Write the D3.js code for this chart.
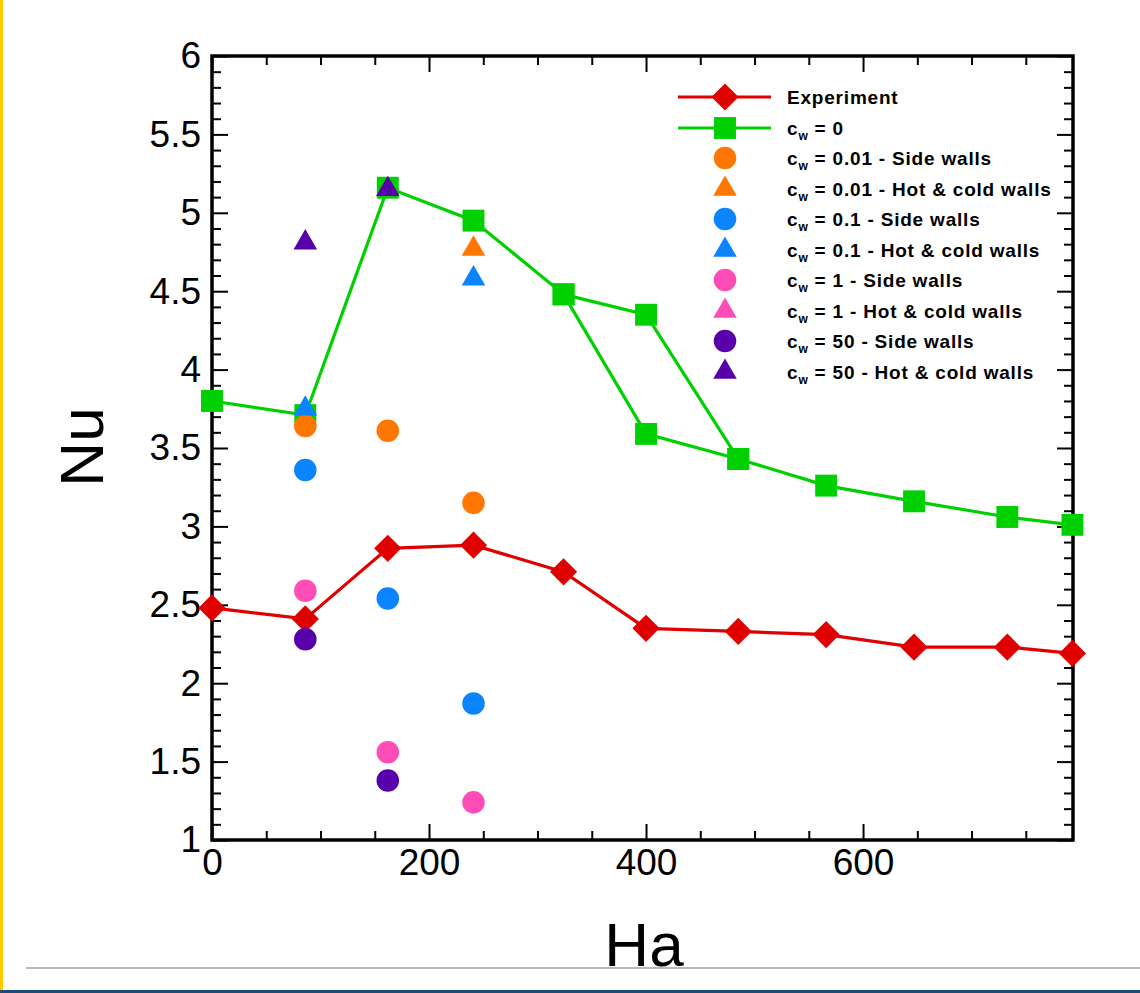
<!DOCTYPE html>
<html>
<head>
<meta charset="utf-8">
<script src="https://cdn.jsdelivr.net/npm/d3@7"></script>
<style>
  body { margin: 0; background: #fff; }
  svg text { font-family: "Liberation Sans", Arial, Helvetica, sans-serif; }
</style>
</head>
<body>
<div id="chart"></div>
<script>
// data
var expHa = [0, 86, 162, 241, 324, 400, 485, 566, 647, 733, 793];
var expNu = [2.48, 2.41, 2.86, 2.88, 2.71, 2.35, 2.33, 2.31, 2.23, 2.23, 2.19];

var cw0Ha = [0, 86, 162, 241, 324, 400, 485, 566, 647, 733, 793];
var cw0Nu = [3.80, 3.71, 5.16, 4.95, 4.48, 3.59, 3.43, 3.26, 3.16, 3.06, 3.01];
// second branch of the c_w = 0 curve
var cw0BranchHa = [324, 400, 485];
var cw0BranchNu = [4.48, 4.35, 3.43];

var cw001SideHa = [86, 162, 241];
var cw001SideNu = [3.64, 3.61, 3.15];
var cw001HotHa = [241];
var cw001HotNu = [4.77];
var cw01SideHa = [86, 162, 241];
var cw01SideNu = [3.36, 2.54, 1.87];
var cw01HotHa = [86, 241];
var cw01HotNu = [3.75, 4.58];
var cw1SideHa = [86, 162, 241];
var cw1SideNu = [2.59, 1.56, 1.24];
var cw1HotHa = [];
var cw1HotNu = [];
var cw50SideHa = [86, 162];
var cw50SideNu = [2.28, 1.38];
var cw50HotHa = [86, 162];
var cw50HotNu = [4.81, 5.15];

var xTicks = [0, 200, 400, 600];
var yTicks = [1, 1.5, 2, 2.5, 3, 3.5, 4, 4.5, 5, 5.5, 6];

var width = 1140;
var height = 993;
var plotLeft = 212, plotRight = 1073, plotTop = 56, plotBottom = 840;

var svg = d3.select("#chart")
    .append("svg")
    .attr("width", width)
    .attr("height", height);

// page decorations
svg.append("rect").attr("x", 0).attr("y", 0).attr("width", 3).attr("height", height).attr("fill", "#ffcc00");
svg.append("line").attr("x1", 26).attr("x2", width).attr("y1", 968).attr("y2", 968)
    .attr("stroke", "#a0a0a0").attr("stroke-width", 1.5);
svg.append("rect").attr("x", 0).attr("y", 990).attr("width", width).attr("height", 3).attr("fill", "#1d4d72");

var xScale = d3.scaleLinear().domain([0, 793.5]).range([plotLeft, plotRight]);
var yScale = d3.scaleLinear().domain([1, 6]).range([plotBottom, plotTop]);

var minorX = d3.range(0, 800, 50).filter(function(d) { return d % 200 !== 0; });
var minorY = d3.range(10, 61).map(function(d) { return d / 10; }).filter(function(d) { return Math.round(d * 10) % 5 !== 0; });

function styleAxis(g) {
  g.select(".domain").remove();
  g.selectAll(".tick line").attr("stroke", "#000").attr("stroke-width", 2.5);
  g.selectAll("text").attr("font-size", 37).attr("fill", "#000");
}

// major ticks, pointing inward
svg.append("g").attr("transform", "translate(0," + plotBottom + ")")
    .call(d3.axisBottom(xScale).tickValues(xTicks).tickSize(-16).tickPadding(9).tickFormat(d3.format("d")))
    .call(styleAxis);
svg.append("g").attr("transform", "translate(" + plotLeft + ",0)")
    .call(d3.axisLeft(yScale).tickValues(yTicks).tickSize(-16).tickPadding(11).tickFormat(d3.format("")))
    .call(styleAxis);
svg.append("g").attr("transform", "translate(0," + plotTop + ")")
    .call(d3.axisTop(xScale).tickValues(xTicks).tickSize(-16).tickFormat(""))
    .call(styleAxis);
svg.append("g").attr("transform", "translate(" + plotRight + ",0)")
    .call(d3.axisRight(yScale).tickValues(yTicks).tickSize(-16).tickFormat(""))
    .call(styleAxis);

// minor ticks
svg.append("g").attr("transform", "translate(0," + plotBottom + ")")
    .call(d3.axisBottom(xScale).tickValues(minorX).tickSize(-9).tickFormat(""))
    .call(styleAxis);
svg.append("g").attr("transform", "translate(0," + plotTop + ")")
    .call(d3.axisTop(xScale).tickValues(minorX).tickSize(-9).tickFormat(""))
    .call(styleAxis);
svg.append("g").attr("transform", "translate(" + plotLeft + ",0)")
    .call(d3.axisLeft(yScale).tickValues(minorY).tickSize(-9).tickFormat(""))
    .call(styleAxis);
svg.append("g").attr("transform", "translate(" + plotRight + ",0)")
    .call(d3.axisRight(yScale).tickValues(minorY).tickSize(-9).tickFormat(""))
    .call(styleAxis);

svg.selectAll(".tick line").attr("stroke-width", 2);

// frame
svg.append("rect")
    .attr("x", plotLeft).attr("y", plotTop)
    .attr("width", plotRight - plotLeft).attr("height", plotBottom - plotTop)
    .attr("fill", "none").attr("stroke", "#000").attr("stroke-width", 3.5);

// axis titles
svg.append("text")
    .attr("x", 644).attr("y", 966)
    .attr("text-anchor", "middle")
    .attr("font-size", 62)
    .text("Ha");
svg.append("text")
    .attr("transform", "translate(103,447) rotate(-90)")
    .attr("text-anchor", "middle")
    .attr("font-size", 62)
    .text("Nu");

// marker shapes
var shapes = {
  diamond: d3.symbol().type(d3.symbolSquare).size(370),
  square: d3.symbol().type(d3.symbolSquare).size(480),
  circle: d3.symbol().type(d3.symbolCircle).size(400),
  triangle: d3.symbol().type(d3.symbolTriangle).size(240)
};
function marker(g, shape, color, x, y) {
  var p = g.append("path")
      .attr("d", shapes[shape]())
      .attr("fill", color);
  if (shape === "diamond") p.attr("transform", "translate(" + x + "," + y + ") rotate(45)");
  else p.attr("transform", "translate(" + x + "," + y + ")");
}

var line = d3.line()
    .x(function(d) { return xScale(d[0]); })
    .y(function(d) { return yScale(d[1]); });

var plot = svg.append("g");

function drawLine(ha, nu, color) {
  plot.append("path")
      .datum(d3.zip(ha, nu))
      .attr("d", line)
      .attr("fill", "none")
      .attr("stroke", color)
      .attr("stroke-width", 3.2);
}
function drawMarkers(ha, nu, shape, color) {
  d3.zip(ha, nu).forEach(function(d) {
    marker(plot, shape, color, xScale(d[0]), yScale(d[1]));
  });
}

var red = "#e00000", green = "#00d000", orange = "#ff7700", blue = "#0a84ff", pink = "#ff4db8", purple = "#5800aa";

drawLine(expHa, expNu, red);
drawMarkers(expHa, expNu, "diamond", red);
drawLine(cw0Ha, cw0Nu, green);
drawLine(cw0BranchHa, cw0BranchNu, green);
drawMarkers(cw0Ha, cw0Nu, "square", green);
drawMarkers(cw0BranchHa, cw0BranchNu, "square", green);

var scatterSeries = [
  [cw001SideHa, cw001SideNu, "circle", orange],
  [cw001HotHa, cw001HotNu, "triangle", orange],
  [cw01SideHa, cw01SideNu, "circle", blue],
  [cw01HotHa, cw01HotNu, "triangle", blue],
  [cw1SideHa, cw1SideNu, "circle", pink],
  [cw1HotHa, cw1HotNu, "triangle", pink],
  [cw50SideHa, cw50SideNu, "circle", purple],
  [cw50HotHa, cw50HotNu, "triangle", purple]
];
scatterSeries.forEach(function(s) { drawMarkers(s[0], s[1], s[2], s[3]); });

// legend
var legendItems = [
  { sub: false, label: "Experiment", shape: "diamond", color: red, line: true },
  { sub: true, label: " = 0", shape: "square", color: green, line: true },
  { sub: true, label: " = 0.01 - Side walls", shape: "circle", color: orange },
  { sub: true, label: " = 0.01 - Hot & cold walls", shape: "triangle", color: orange },
  { sub: true, label: " = 0.1 - Side walls", shape: "circle", color: blue },
  { sub: true, label: " = 0.1 - Hot & cold walls", shape: "triangle", color: blue },
  { sub: true, label: " = 1 - Side walls", shape: "circle", color: pink },
  { sub: true, label: " = 1 - Hot & cold walls", shape: "triangle", color: pink },
  { sub: true, label: " = 50 - Side walls", shape: "circle", color: purple },
  { sub: true, label: " = 50 - Hot & cold walls", shape: "triangle", color: purple }
];
var legendY = [97, 128, 158, 189, 219, 250, 280, 311, 341, 372];
var legend = svg.append("g");
legendItems.forEach(function(it, i) {
  var y = legendY[i];
  if (it.line) {
    legend.append("line").attr("x1", 678).attr("x2", 771).attr("y1", y).attr("y2", y)
        .attr("stroke", it.color).attr("stroke-width", 3.2);
  }
  marker(legend, it.shape, it.color, 725, y);
  var t = legend.append("text")
      .attr("x", 787).attr("y", y + 6.5)
      .attr("font-size", 19)
      .attr("font-weight", "bold")
      .attr("letter-spacing", 0.8);
  if (it.sub) {
    t.append("tspan").text("c");
    t.append("tspan").attr("font-size", 12).attr("dy", 5).text("w");
    t.append("tspan").attr("dy", -5).text(it.label);
  } else {
    t.text(it.label);
  }
});
</script>
</body>
</html>
